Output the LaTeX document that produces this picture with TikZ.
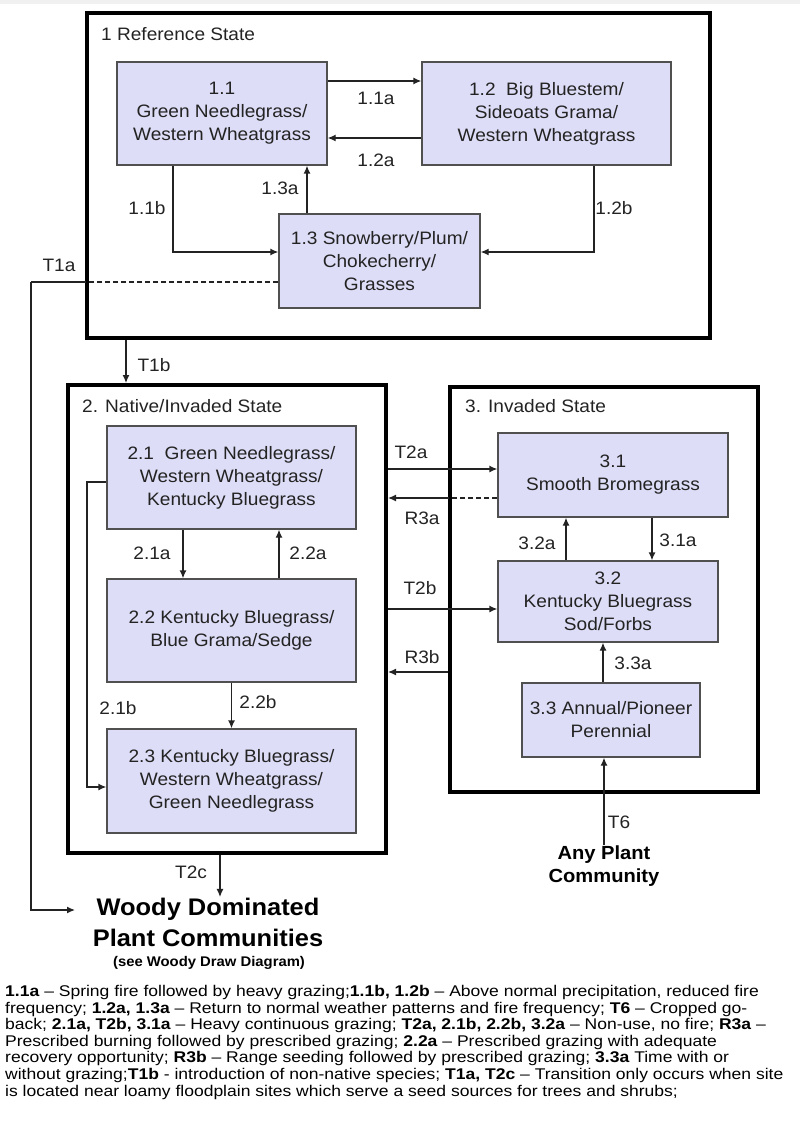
\documentclass[tikz,border=0pt]{standalone}
\usepackage{fontspec}
\setmainfont{Liberation Sans}[FakeStretch=1.06]
\newfontfamily\notesfont{Liberation Sans}[FakeStretch=1.13]
\usetikzlibrary{arrows.meta,%
                shapes,positioning,calc}

\definecolor{boxfill}{RGB}{221,221,247}
\definecolor{boxline}{RGB}{80,80,80}
\definecolor{textgray}{RGB}{35,35,35}

\begin{document}
\begin{tikzpicture}[x=1pt,y=-1pt,
  state/.style={draw=black,line width=4pt,inner sep=0pt},
  comm/.style={draw=boxline,fill=boxfill,line width=1.3pt,inner sep=0pt,align=center,
    text=textgray,font=\fontsize{18}{23}\selectfont},
  lbl/.style={inner sep=0pt,text=textgray,font=\fontsize{18}{22}\selectfont},
  arr/.style={draw=textgray,line width=1.3pt,-{Latex[length=8pt,width=7pt]}},
  link/.style={draw=textgray,line width=1.3pt},
  dlink/.style={link,dash pattern=on 5pt off 3pt}]
\useasboundingbox (0,0) rectangle (800,1131);
\fill[gray!12] (0,0) rectangle (800,4);

\node[state,minimum width=623pt,minimum height=325pt] (st1) at (398.5,175.5) {};
\node[state,minimum width=318pt,minimum height=468pt] (st2) at (227,619) {};
\node[state,minimum width=308pt,minimum height=405pt] (st3) at (604,589.5) {};
\node[lbl,anchor=west] (st1name) at (101,34) {1 Reference State};
\node[lbl,anchor=west] (st2name) at (82,406) {2. Native/Invaded State};
\node[lbl,anchor=west] (st3name) at (465,406) {3. Invaded State};

\node[comm,minimum width=210pt,minimum height=103pt] (c11) at (222,113.5) {1.1\\Green Needlegrass/\\Western Wheatgrass};
\node[comm,minimum width=249pt,minimum height=103pt] (c12) at (546.5,113.5) {1.2\ \ Big Bluestem/\\Sideoats Grama/\\Western Wheatgrass};
\node[comm,minimum width=201pt,minimum height=94pt] (c13) at (379.5,261) {1.3 Snowberry/Plum/\\Chokecherry/\\Grasses};

\node[comm,minimum width=249pt,minimum height=103pt] (c21) at (231.5,477.5) {2.1\ \ Green Needlegrass/\\Western Wheatgrass/\\Kentucky Bluegrass};
\node[comm,minimum width=249pt,minimum height=103pt] (c22) at (231.5,630.5) {2.2 Kentucky Bluegrass/\\Blue Grama/Sedge};
\node[comm,minimum width=249pt,minimum height=104pt] (c23) at (231.5,781) {2.3 Kentucky Bluegrass/\\Western Wheatgrass/\\Green Needlegrass};

\node[comm,minimum width=230pt,minimum height=84pt] (c31) at (613,475) {3.1\\Smooth Bromegrass};
\node[comm,minimum width=220pt,minimum height=81pt] (c32) at (608,601.5) {3.2\\Kentucky Bluegrass\\Sod/Forbs};
\node[comm,minimum width=178pt,minimum height=74pt] (c33) at (611,720) {3.3 Annual/Pioneer\\Perennial};

\node[inner sep=1pt,align=center,font=\bfseries\fontsize{24}{31}\selectfont] (woody) at (208,922.5) {Woody Dominated\\Plant Communities};
\node[inner sep=0pt,font=\bfseries\fontsize{14}{16}\selectfont] (woodynote) at (209,963) {(see Woody Draw Diagram)};
\node[inner sep=0pt,align=center,font=\bfseries\fontsize{19}{23}\selectfont] (anypc) at (604,866) {Any Plant\\Community};

\draw[arr] ($(c11.east)+(0,-32.5)$) -- ($(c12.west)+(0,-32.5)$);
\draw[arr] ($(c12.west)+(0,24.5)$) -- ($(c11.east)+(0,24.5)$);
\draw[arr] ($(c11.south)+(-49,0)$) |- ($(c13.west)+(0,-9)$);
\draw[arr] ($(c12.south)+(47.5,0)$) |- ($(c13.east)+(0,-9)$);
\draw[arr] ($(c13.north)+(-72.5,0)$) coordinate (p13a) -- (p13a |- c11.south);
\node[lbl] (l11a) at (376,98) {1.1a};
\node[lbl] (l12a) at (376,160) {1.2a};
\node[lbl] (l11b) at (147,208) {1.1b};
\node[lbl] (l13a) at (280,188) {1.3a};
\node[lbl] (l12b) at (614,208) {1.2b};

\coordinate (t1a) at (31,282);
\coordinate (woodyin) at (75,910);
\draw[dlink] ($(c13.west)+(0,21)$) coordinate (p1a) -- (p1a -| st1.west);
\draw[link] (p1a -| st1.west) -- (t1a);
\draw[arr] (t1a) |- (woodyin);
\node[lbl] (lt1a) at (59,265) {T1a};

\draw[arr] ($(st1.south)+(-272.5,0)$) coordinate (p1b) -- (p1b |- st2.north);
\node[lbl] (lt1b) at (154,365) {T1b};

\draw[arr] ($(c21.south)+(-48.5,0)$) coordinate (p21a) -- (p21a |- c22.north);
\draw[arr] ($(c22.north)+(47.5,0)$) coordinate (p22a) -- (p22a |- c21.south);
\draw[arr] (c22.south) -- (c23.north);
\coordinate (b21) at (87,787);
\draw[arr] ($(c21.west)+(0,4.5)$) -| (b21) -- (b21 -| c23.west);
\node[lbl] (l21a) at (152,553) {2.1a};
\node[lbl] (l22a) at (308,553) {2.2a};
\node[lbl] (l22b) at (258,702) {2.2b};
\node[lbl] (l21b) at (118,708) {2.1b};

\coordinate (t2aend) at ($(c31.west)+(0,-6)$);
\draw[arr] (st2.east |- t2aend) -- (t2aend);
\coordinate (r3a) at ($(c31.west)+(0,23)$);
\draw[dlink] (r3a) -- (r3a -| st3.west);
\draw[arr] (r3a -| st3.west) -- (r3a -| st2.east);
\coordinate (t2bend) at ($(c32.west)+(0,7.5)$);
\draw[arr] (st2.east |- t2bend) -- (t2bend);
\draw[arr] ($(st3.west)+(0,82.5)$) coordinate (r3b) -- (r3b -| st2.east);
\node[lbl] (lt2a) at (411,452) {T2a};
\node[lbl] (lr3a) at (422,518) {R3a};
\node[lbl] (lt2b) at (420,588) {T2b};
\node[lbl] (lr3b) at (422,657) {R3b};

\draw[arr] ($(c32.north)+(-42,0)$) coordinate (p32a) -- (p32a |- c31.south);
\draw[arr] ($(c31.south)+(39,0)$) coordinate (p31a) -- (p31a |- c32.north);
\draw[arr] ($(c33.north)+(-8,0)$) coordinate (p33a) -- (p33a |- c32.south);
\draw[arr] (anypc.north) -- (anypc.north |- c33.south);
\node[lbl] (l32a) at (537,543) {3.2a};
\node[lbl] (l31a) at (678,540) {3.1a};
\node[lbl] (l33a) at (633,663) {3.3a};
\node[lbl] (lt6) at (619,822) {T6};

\draw[arr] ($(st2.south)+(-7,0)$) coordinate (p2c) -- (p2c |- woody.north);
\node[lbl] (lt2c) at (191,872) {T2c};

\node[anchor=north west,inner sep=0pt,align=left,font=\notesfont\fontsize{15.5}{16.6}\selectfont] (notes) at (5,985) {%
\textbf{1.1a} – Spring fire followed by heavy grazing;\textbf{1.1b, 1.2b} – Above normal precipitation, reduced fire\\
frequency; \textbf{1.2a, 1.3a} – Return to normal weather patterns and fire frequency; \textbf{T6} – Cropped go-\\
back; \textbf{2.1a, T2b, 3.1a} – Heavy continuous grazing; \textbf{T2a, 2.1b, 2.2b, 3.2a} – Non-use, no fire; \textbf{R3a} –\\
Prescribed burning followed by prescribed grazing; \textbf{2.2a} – Prescribed grazing with adequate\\
recovery opportunity; \textbf{R3b} – Range seeding followed by prescribed grazing; \textbf{3.3a} Time with or\\
without grazing;\textbf{T1b} - introduction of non-native species; \textbf{T1a, T2c} – Transition only occurs when site\\
is located near loamy floodplain sites which serve a seed sources for trees and shrubs;};
\end{tikzpicture}
\end{document}
